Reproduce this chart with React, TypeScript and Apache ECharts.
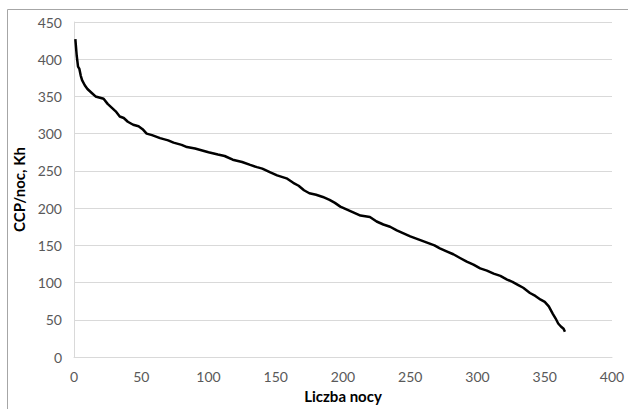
import React, { useEffect, useRef } from "react";
import * as echarts from "echarts";

const days: number[] = [
  1, 2, 3, 4, 5, 6, 8, 10, 13, 16, 20, 22, 25, 28, 31, 34, 37, 40, 44, 48, 51, 54, 58, 64, 70, 74, 80, 84, 90, 94,
  100, 107, 112, 118, 125, 131, 136, 140, 146, 151, 158, 163, 167, 171, 175, 180, 185, 190, 194, 198, 203, 208, 213,
  220, 225, 230, 235, 240, 245, 250, 256, 262, 268, 272, 277, 282, 287, 292, 297, 302, 307, 312, 317, 322, 326, 330,
  334, 339, 343, 347, 350, 353, 356, 358, 360, 362, 364, 365,
];
const ccp: number[] = [
  427, 405, 390, 387, 378, 372, 365, 360, 355, 350, 348, 347, 340, 335, 330, 323, 321, 316, 312, 310, 306, 300, 298,
  294, 291, 288, 285, 282, 280, 278, 275, 272, 270, 265, 262, 258, 255, 253, 248, 244, 240, 234, 230, 224, 220, 218,
  215, 211, 207, 202, 198, 194, 190, 188, 182, 178, 175, 170, 166, 162, 158, 154, 150, 146, 142, 138, 133, 128, 124,
  119, 116, 112, 109, 104, 101, 97, 93, 86, 82, 77, 74, 68, 58, 52, 45, 41, 38, 34,
];

const xTitle = "Liczba nocy";
const yTitle = "CCP/noc, Kh";

export default function App() {
  const ref = useRef<HTMLDivElement>(null);
  useEffect(() => {
    if (!ref.current) return;
    const chart = echarts.init(ref.current, null, { renderer: "svg" });
    const font = "Lato, 'Liberation Sans', sans-serif";
    chart.setOption({
      animation: false,
      backgroundColor: "#ffffff",
      textStyle: { fontFamily: font },
      graphic: [
        {
          type: "rect",
          shape: { x: 7.5, y: 9.5, width: 700, height: 500 },
          style: { fill: "none", stroke: "#a6a6a6", lineWidth: 1 },
          silent: true,
        },
      ],
      grid: { left: 74, top: 22, right: 16, bottom: 52, containLabel: false },
      xAxis: {
        type: "value",
        min: 0,
        max: 400,
        interval: 50,
        name: xTitle,
        nameLocation: "middle",
        nameGap: 31,
        nameTextStyle: { fontFamily: font, fontSize: 15, fontWeight: "bold", color: "#000" },
        axisLine: { show: true, lineStyle: { color: "#d9d9d9", width: 1 } },
        axisTick: { show: false },
        axisLabel: { color: "#595959", fontSize: 14, margin: 12, fontFamily: font },
        splitLine: { show: false },
      },
      yAxis: {
        type: "value",
        min: 0,
        max: 450,
        interval: 50,
        name: yTitle,
        nameLocation: "middle",
        nameGap: 34,
        nameRotate: 90,
        nameTextStyle: { fontFamily: font, fontSize: 15, fontWeight: "bold", color: "#000" },
        axisLine: { show: true, lineStyle: { color: "#d9d9d9", width: 1 } },
        axisTick: { show: false },
        axisLabel: { color: "#595959", fontSize: 14, margin: 12, fontFamily: font },
        splitLine: { show: true, lineStyle: { color: "#d9d9d9", width: 1 } },
      },
      series: [
        {
          type: "line",
          data: days.map((d, i) => [d, ccp[i]]),
          showSymbol: false,
          lineStyle: { color: "#000", width: 2.5 },
          itemStyle: { color: "#000" },
        },
      ],
    });
    return () => chart.dispose();
  }, []);
  return (
    <div
      ref={ref}
      style={{ position: "fixed", left: 0, top: 0, width: 628, height: 409, background: "#fff" }}
    />
  );
}
